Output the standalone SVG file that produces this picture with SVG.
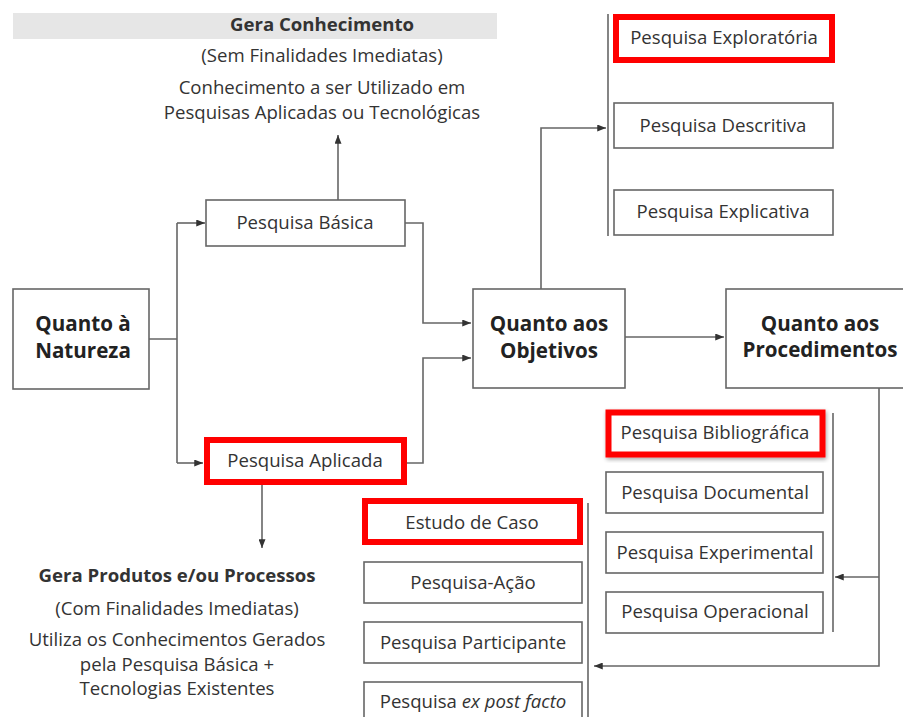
<svg xmlns="http://www.w3.org/2000/svg" width="903" height="717" viewBox="0 0 903 717">
<defs>
<marker id="ah" viewBox="0 0 10 8" refX="10" refY="4" markerWidth="9" markerHeight="7" markerUnits="userSpaceOnUse" orient="auto">
<path d="M0,0 L10,4 L0,8 Z" fill="#333"/>
</marker>
<filter id="sh" x="-10%" y="-20%" width="120%" height="140%">
<feGaussianBlur in="SourceAlpha" stdDeviation="2"/>
<feOffset dx="1" dy="2"/>
<feComponentTransfer><feFuncA type="linear" slope="0.35"/></feComponentTransfer>
<feMerge><feMergeNode/><feMergeNode in="SourceGraphic"/></feMerge>
</filter>
</defs>
<style>
.box{fill:#fff;stroke:#666;stroke-width:1.6}
.red{fill:#fff;stroke:#f00;stroke-width:6}
.t{font-family:"Open Sans","Noto Sans","Liberation Sans",sans-serif;font-size:18.6px;fill:#333;text-anchor:middle}
.b{font-family:"Open Sans","Noto Sans","Liberation Sans",sans-serif;font-size:20.6px;font-weight:bold;fill:#222;text-anchor:middle}
.hb{font-family:"Open Sans","Noto Sans","Liberation Sans",sans-serif;font-size:18.6px;font-weight:bold;fill:#333;text-anchor:middle}
.ln{fill:none;stroke:#666;stroke-width:1.6}
.la{fill:none;stroke:#666;stroke-width:1.6;marker-end:url(#ah)}
</style>
<rect width="903" height="717" fill="#fff"/>

<g id="connectors">
<path class="ln" d="M149,339 H177 M177,223 V463"/>
<path class="la" d="M177,223 H205"/>
<path class="la" d="M177,463 H203"/>
<path class="la" d="M338,200 V135"/>
<path class="la" d="M262,485 V548"/>
<path class="la" d="M405,223 H423 V323 H471"/>
<path class="la" d="M407,463 H423 V358 H471"/>
<path class="la" d="M625,337 H724"/>
<path class="la" d="M541,289 V128 H606"/>
<path class="ln" d="M608,14 V236"/>
<path class="la" d="M879,388 V666 H594"/>
<path class="la" d="M879,577 H835"/>
<path class="ln" d="M833,413 V632"/>
<path class="ln" d="M588,503 V717"/>
</g>

<g id="gera-conhecimento">
<rect x="13" y="13" width="484" height="26" fill="#e6e6e6"/>
<text class="hb" x="322" y="31">Gera Conhecimento</text>
<text class="t" x="322" y="62">(Sem Finalidades Imediatas)</text>
<text class="t" x="322" y="94">Conhecimento a ser Utilizado em</text>
<text class="t" x="322" y="119">Pesquisas Aplicadas ou Tecnológicas</text>
</g>

<g id="natureza">
<rect class="box" x="13" y="289" width="136" height="100"/>
<text class="b" x="83" y="331">Quanto à</text>
<text class="b" x="83" y="358">Natureza</text>
</g>

<g id="basica">
<rect class="box" x="206" y="200" width="199" height="46"/>
<text class="t" x="305" y="229">Pesquisa Básica</text>
</g>

<g id="aplicada">
<rect class="red" x="207" y="440" width="197" height="42"/>
<text class="t" x="305" y="467">Pesquisa Aplicada</text>
</g>

<g id="objetivos">
<rect class="box" x="473" y="289" width="152" height="99"/>
<text class="b" x="549" y="331">Quanto aos</text>
<text class="b" x="549" y="358">Objetivos</text>
</g>

<g id="procedimentos">
<rect class="box" x="726" y="289" width="190" height="99"/>
<text class="b" x="820" y="331">Quanto aos</text>
<text class="b" x="820" y="357">Procedimentos</text>
</g>

<g id="exploratoria">
<rect class="red" x="616" y="17" width="216" height="43"/>
<text class="t" x="724" y="44">Pesquisa Exploratória</text>
</g>

<g id="descritiva">
<rect class="box" x="614" y="103" width="219" height="45"/>
<text class="t" x="723" y="132">Pesquisa Descritiva</text>
</g>

<g id="explicativa">
<rect class="box" x="614" y="190" width="219" height="45"/>
<text class="t" x="723" y="218">Pesquisa Explicativa</text>
</g>

<g id="bibliografica">
<rect class="red" x="608.5" y="412.5" width="214" height="42" stroke-width="5" filter="url(#sh)"/>
<text class="t" x="715" y="439">Pesquisa Bibliográfica</text>
</g>

<g id="documental">
<rect class="box" x="606" y="472" width="217" height="41"/>
<text class="t" x="715" y="499">Pesquisa Documental</text>
</g>

<g id="experimental">
<rect class="box" x="606" y="532" width="217" height="41"/>
<text class="t" x="715" y="559">Pesquisa Experimental</text>
</g>

<g id="operacional">
<rect class="box" x="606" y="592" width="217" height="41"/>
<text class="t" x="715" y="618">Pesquisa Operacional</text>
</g>

<g id="estudo-de-caso">
<rect class="red" x="365" y="501" width="215" height="41"/>
<text class="t" x="472" y="529">Estudo de Caso</text>
</g>

<g id="pesquisa-acao">
<rect class="box" x="364" y="562" width="218" height="41"/>
<text class="t" x="473" y="589">Pesquisa-Ação</text>
</g>

<g id="participante">
<rect class="box" x="364" y="622" width="218" height="41"/>
<text class="t" x="473" y="649">Pesquisa Participante</text>
</g>

<g id="ex-post-facto">
<rect class="box" x="364" y="682" width="218" height="45"/>
<text class="t" x="473" y="708">Pesquisa <tspan font-style="italic">ex post facto</tspan></text>
</g>

<g id="gera-produtos">
<text class="hb" x="177" y="582">Gera Produtos e/ou Processos</text>
<text class="t" x="177" y="615">(Com Finalidades Imediatas)</text>
<text class="t" x="177" y="646">Utiliza os Conhecimentos Gerados</text>
<text class="t" x="177" y="671">pela Pesquisa Básica +</text>
<text class="t" x="177" y="695">Tecnologias Existentes</text>
</g>
</svg>
